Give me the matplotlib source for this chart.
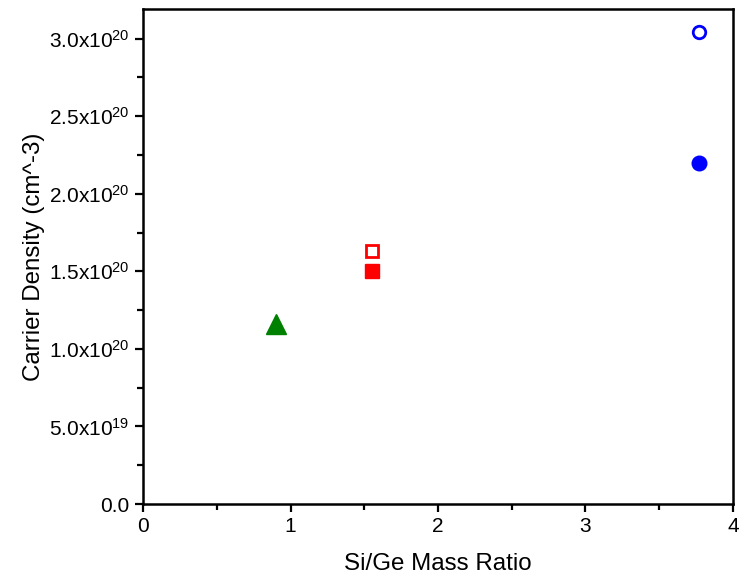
import matplotlib
matplotlib.use("Agg")
import matplotlib.pyplot as plt
from matplotlib.ticker import MultipleLocator, FixedLocator

plt.rcParams['font.family'] = ['Liberation Sans', 'DejaVu Sans']
plt.rcParams['mathtext.fontset'] = 'custom'
plt.rcParams['mathtext.rm'] = 'Liberation Sans'
plt.rcParams['mathtext.it'] = 'Liberation Sans:italic'
plt.rcParams['mathtext.bf'] = 'Liberation Sans:bold'

# Carrier density vs Si/Ge mass ratio
tri_x = [0.90]
tri_y = [1.16e20]
sq_open_x = [1.55]
sq_open_y = [1.63e20]
sq_fill_x = [1.55]
sq_fill_y = [1.50e20]
circ_open_x = [3.77]
circ_open_y = [3.04e20]
circ_fill_x = [3.77]
circ_fill_y = [2.20e20]

ytick_vals = [0.0, 0.5e20, 1.0e20, 1.5e20, 2.0e20, 2.5e20, 3.0e20]
ytick_labels = ['0.0', r'5.0x10$^{19}$', r'1.0x10$^{20}$', r'1.5x10$^{20}$',
                r'2.0x10$^{20}$', r'2.5x10$^{20}$', r'3.0x10$^{20}$']
xtick_vals = [0, 1, 2, 3, 4]

fig = plt.figure(figsize=(7.43, 5.76), dpi=100)
ax = fig.add_axes([0.1925, 0.125, 0.794, 0.859])

ax.plot(tri_x, tri_y, linestyle='none', marker='^', markersize=14,
        color='#008000')
ax.plot(sq_open_x, sq_open_y, linestyle='none', marker='s', markersize=9,
        markerfacecolor='white', markeredgecolor='#ff0000', markeredgewidth=2)
ax.plot(sq_fill_x, sq_fill_y, linestyle='none', marker='s', markersize=10,
        color='#ff0000')
ax.plot(circ_open_x, circ_open_y, linestyle='none', marker='o', markersize=9,
        markerfacecolor='white', markeredgecolor='#0000ff', markeredgewidth=2)
ax.plot(circ_fill_x, circ_fill_y, linestyle='none', marker='o', markersize=10.5,
        color='#0000ff')

ax.set_xlim(0, 4)
ax.set_ylim(0, 3.19e20)

ax.xaxis.set_major_locator(FixedLocator(xtick_vals))
ax.set_xticklabels([str(v) for v in xtick_vals])
ax.xaxis.set_minor_locator(MultipleLocator(0.5))
ax.yaxis.set_major_locator(FixedLocator(ytick_vals))
ax.set_yticklabels(ytick_labels)
ax.yaxis.set_minor_locator(MultipleLocator(0.25e20))

for side in ['left', 'bottom', 'right', 'top']:
    ax.spines[side].set_linewidth(1.8)

ax.tick_params(axis='both', which='major', direction='out', length=6,
               width=1.6, labelsize=15, pad=3.5)
ax.tick_params(axis='both', which='minor', direction='out', length=4,
               width=1.6)

ax.set_xlabel('Si/Ge Mass Ratio', fontsize=17.4, labelpad=12)
ax.set_ylabel('Carrier Density (cm^-3)', fontsize=17.4, labelpad=3)

fig.savefig('out.png', dpi=100)
